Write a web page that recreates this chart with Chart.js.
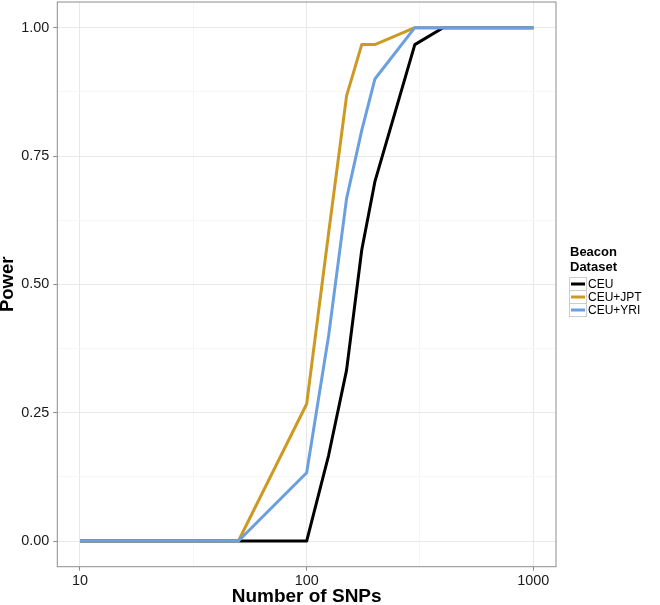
<!DOCTYPE html>
<html>
<head>
<meta charset="utf-8">
<script src="https://cdn.jsdelivr.net/npm/chart.js@4/dist/chart.umd.min.js"></script>
<style>
  html, body { margin: 0; padding: 0; background: #ffffff; }
  #wrap { width: 660px; height: 605px; position: relative; }
</style>
</head>
<body>
<div id="wrap"><canvas id="c" width="660" height="605"></canvas></div>
<script>
// ---- data ----
const snps = [10, 20, 50, 100, 125, 150, 175, 200, 300, 400, 500, 1000];
const powerCEU    = [0, 0, 0, 0,     0.167, 0.333, 0.567, 0.700, 0.967, 1, 1, 1];
const powerCEUJPT = [0, 0, 0, 0.267, 0.600, 0.867, 0.967, 0.967, 1,     1, 1, 1];
const powerCEUYRI = [0, 0, 0, 0.133, 0.400, 0.667, 0.800, 0.900, 1,     1, 1, 1];
const seriesNames = ['CEU', 'CEU+JPT', 'CEU+YRI'];
const xMajorTicks = [10, 100, 1000];
const xMinorTicks = [31.6227766, 316.227766];
const yMajorTicks = [0, 0.25, 0.5, 0.75, 1.0];
const yMinorTicks = [0.125, 0.375, 0.625, 0.875];
const legendTitle = ['Beacon', 'Dataset'];
const xTitle = 'Number of SNPs';
const yTitle = 'Power';

// ---- styles ----
const colors = ['#000000', '#CC9A22', '#6A9FE0'];
const FONT = '"Liberation Sans", Arial, Helvetica, sans-serif';

function pts(vals) { return snps.map((x, i) => ({ x: x, y: vals[i] })); }

const allSeries = [powerCEU, powerCEUJPT, powerCEUYRI];
const datasets = allSeries.map((vals, i) => ({
  label: seriesNames[i],
  data: pts(vals),
  borderColor: colors[i],
  backgroundColor: colors[i],
  borderWidth: 3,
  pointRadius: 0,
  tension: 0,
  fill: false,
  order: 2 - i,           // CEU+YRI drawn on top
  borderJoinStyle: 'round'
}));

const isMajor = (arr, v) => arr.some(m => Math.abs(m - v) < 1e-6);

const frameAndLegend = {
  id: 'frameAndLegend',
  afterDatasetsDraw(chart) {
    const { ctx, chartArea: a } = chart;
    ctx.save();
    ctx.strokeStyle = '#8c8c8c';
    ctx.lineWidth = 1;
    ctx.strokeRect(a.left, a.top, a.right - a.left, a.bottom - a.top);
    ctx.restore();
  },
  afterDraw(chart) {
    const { ctx } = chart;
    ctx.save();
    // legend title
    ctx.fillStyle = '#000';
    ctx.font = 'bold 13px ' + FONT;
    ctx.textAlign = 'left';
    ctx.textBaseline = 'alphabetic';
    ctx.fillText(legendTitle[0], 570, 256);
    ctx.fillText(legendTitle[1], 570, 271);
    // keys
    const keyX = 569.5, keyW = 17, keyH = 13, top0 = 277.5;
    chart.data.datasets.forEach((ds, i) => {
      const y = top0 + i * keyH;
      ctx.fillStyle = '#ffffff';
      ctx.fillRect(keyX, y, keyW, keyH);
      ctx.strokeStyle = '#cccccc';
      ctx.lineWidth = 1;
      ctx.strokeRect(keyX, y, keyW, keyH);
      ctx.strokeStyle = ds.borderColor;
      ctx.lineWidth = 3;
      ctx.beginPath();
      ctx.moveTo(keyX + 1.5, y + keyH / 2);
      ctx.lineTo(keyX + keyW - 1.5, y + keyH / 2);
      ctx.stroke();
      ctx.fillStyle = '#000';
      ctx.font = '12px ' + FONT;
      ctx.textBaseline = 'middle';
      ctx.fillText(ds.label, keyX + keyW + 1.5, y + keyH / 2 + 0.5);
    });
    ctx.restore();
  }
};

function noPad(s) { s.paddingTop = 0; s.paddingBottom = 0; s.paddingLeft = 0; s.paddingRight = 0; }

new Chart(document.getElementById('c'), {
  type: 'line',
  data: { datasets: datasets },
  plugins: [frameAndLegend],
  options: {
    responsive: false,
    animation: false,
    layout: { padding: { left: 0, right: 104, top: 2, bottom: 0 } },
    plugins: { legend: { display: false }, tooltip: { enabled: false } },
    scales: {
      x: {
        type: 'logarithmic',
        min: Math.pow(10, 0.9),
        max: Math.pow(10, 3.1),
        afterBuildTicks: s => { s.ticks = xMajorTicks.concat(xMinorTicks).sort((a, b) => a - b).map(v => ({ value: v })); },
        afterFit: s => { s.height = 605 - 566.7; noPad(s); },
        border: { display: false },
        grid: {
          drawTicks: true,
          tickLength: 4,
          color: c => isMajor(xMajorTicks, c.tick ? c.tick.value : 0) ? '#e8e8e8' : '#f6f6f6',
          tickColor: c => isMajor(xMajorTicks, c.tick ? c.tick.value : 0) ? '#8c8c8c' : 'rgba(0,0,0,0)',
          lineWidth: 1
        },
        ticks: {
          autoSkip: false,
          maxRotation: 0,
          padding: 2,
          color: '#1a1a1a',
          font: { family: FONT, size: 14.4 },
          callback: v => {
            const k = xMajorTicks.findIndex(m => Math.abs(m - v) < 1e-6);
            return k >= 0 ? String(xMajorTicks[k]) : '';
          }
        },
        title: {
          display: true,
          text: xTitle,
          color: '#000',
          padding: 0,
          font: { family: FONT, size: 19, weight: 'bold', lineHeight: 0.84 }
        }
      },
      y: {
        type: 'linear',
        min: -0.05,
        max: 1.05,
        afterBuildTicks: s => { s.ticks = yMajorTicks.concat(yMinorTicks).sort((a, b) => a - b).map(v => ({ value: v })); },
        afterFit: s => { s.width = 57.3; noPad(s); },
        border: { display: false },
        grid: {
          drawTicks: true,
          tickLength: 4,
          color: c => isMajor(yMajorTicks, c.tick ? c.tick.value : -1) ? '#e8e8e8' : '#f6f6f6',
          tickColor: c => isMajor(yMajorTicks, c.tick ? c.tick.value : -1) ? '#8c8c8c' : 'rgba(0,0,0,0)',
          lineWidth: 1
        },
        ticks: {
          autoSkip: false,
          padding: 4,
          color: '#1a1a1a',
          font: { family: FONT, size: 14.4 },
          callback: v => isMajor(yMajorTicks, v) ? v.toFixed(2) : ''
        },
        title: {
          display: true,
          text: yTitle,
          color: '#000',
          padding: 0,
          font: { family: FONT, size: 18.5, weight: 'bold', lineHeight: 0.83 }
        }
      }
    }
  }
});
</script>
</body>
</html>
